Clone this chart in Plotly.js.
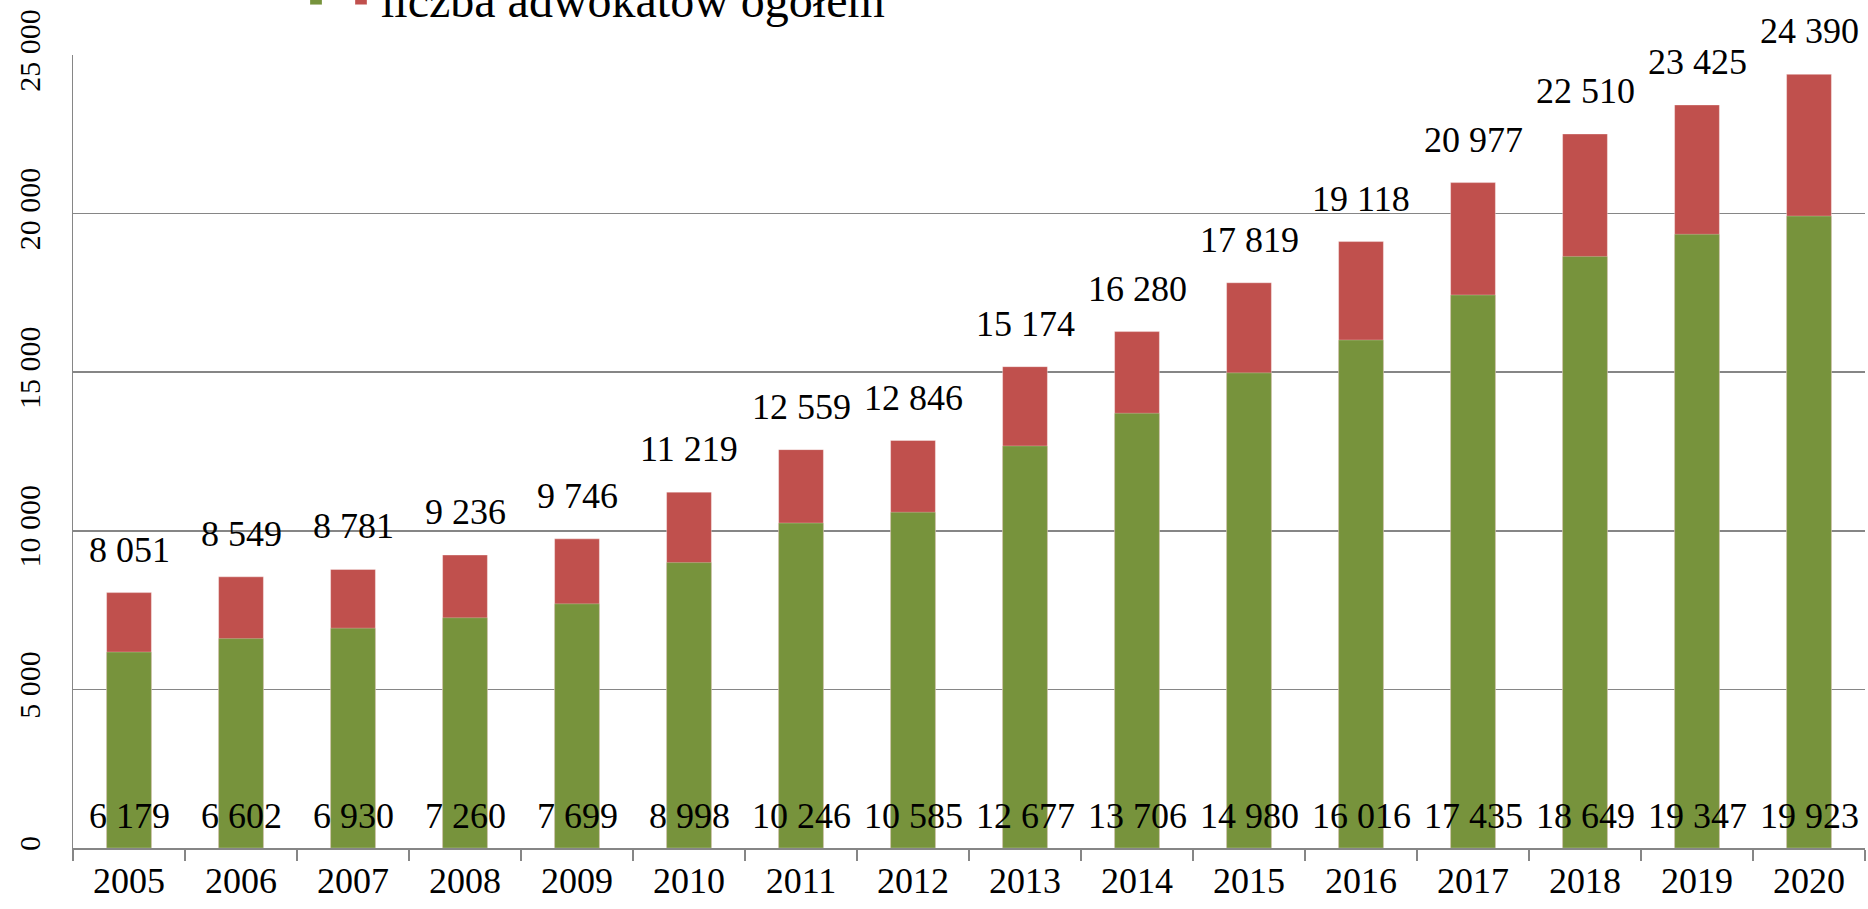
<!DOCTYPE html>
<html>
<head>
<meta charset="utf-8">
<script src="https://cdn.plot.ly/plotly-3.0.1.min.js"></script>
<style>
  html, body { margin: 0; padding: 0; background: #fff; }
  #chart { width: 1868px; height: 909px; }
</style>
</head>
<body>
<div id="chart"></div>
<script>
const years = ['2005','2006','2007','2008','2009','2010','2011','2012','2013','2014','2015','2016','2017','2018','2019','2020'];
const practicing = [6179, 6602, 6930, 7260, 7699, 8998, 10246, 10585, 12677, 13706, 14980, 16016, 17435, 18649, 19347, 19923];
const totals = [8051, 8549, 8781, 9236, 9746, 11219, 12559, 12846, 15174, 16280, 17819, 19118, 20977, 22510, 23425, 24390];
const seriesNames = ['', 'liczba adwokatów ogółem'];

const GREEN = '#77933C';
const RED = '#C0504D';
const GRID = '#868686';
const FONT = '"Liberation Serif"';

function fmt(v) { return String(v).replace(/\B(?=(\d{3})+(?!\d))/g, ' '); }

const traces = [
  {
    type: 'bar', x: years, y: totals, name: seriesNames[1],
    marker: { color: RED, line: { color: 'rgba(255,255,255,0.35)', width: 1 } },
    legendrank: 2, hoverinfo: 'skip'
  },
  {
    type: 'bar', x: years, y: practicing, name: seriesNames[0],
    marker: { color: GREEN, line: { color: 'rgba(255,255,255,0.25)', width: 1 } },
    legendrank: 1, hoverinfo: 'skip'
  }
];

// annotations on a category axis use the category's serial number
const annotations = [];
years.forEach((yr, i) => {
  annotations.push({
    x: i, y: totals[i], xref: 'x', yref: 'y', text: fmt(totals[i]),
    showarrow: false, yanchor: 'bottom', yshift: 21,
    font: { family: FONT, size: 36, color: '#000' }
  });
  annotations.push({
    x: i, y: 0, xref: 'x', yref: 'y', text: fmt(practicing[i]),
    showarrow: false, yanchor: 'bottom', yshift: 10,
    font: { family: FONT, size: 36, color: '#000' }
  });
});

const layout = {
  width: 1868, height: 909,
  margin: { l: 73, r: 3, t: 55, b: 61, autoexpand: false },
  paper_bgcolor: '#fff', plot_bgcolor: '#fff',
  font: { family: FONT, color: '#000' },
  barmode: 'overlay', bargap: 0.6,
  separators: ', ',
  showlegend: true,
  legend: {
    orientation: 'h', x: (296 - 73) / 1792, xanchor: 'left',
    y: (848 + 1) / 793, yanchor: 'middle',
    font: { family: FONT, size: 48, color: '#000' },
    bgcolor: 'rgba(0,0,0,0)', itemwidth: 30
  },
  xaxis: {
    type: 'category', range: [-0.5, years.length - 0.5],
    tickson: 'boundaries', ticks: 'outside', ticklen: 11,
    tickcolor: GRID, tickwidth: 1.5, showline: true, linecolor: GRID, linewidth: 1.5,
    showgrid: false, tickangle: 0, tickfont: { family: FONT, size: 36, color: '#000' }
  },
  yaxis: {
    range: [0, 25000], tick0: 0, dtick: 5000, tickformat: ',',
    showgrid: true, gridcolor: GRID, gridwidth: 1.5,
    showline: true, linecolor: GRID, linewidth: 1.5, zeroline: false,
    tickangle: -90, ticks: '', ticklabelstandoff: 20,
    tickfont: { family: FONT, size: 30, color: '#000' }
  },
  annotations: annotations
};

Plotly.newPlot('chart', traces, layout, { displayModeBar: false, staticPlot: true });
</script>
</body>
</html>
